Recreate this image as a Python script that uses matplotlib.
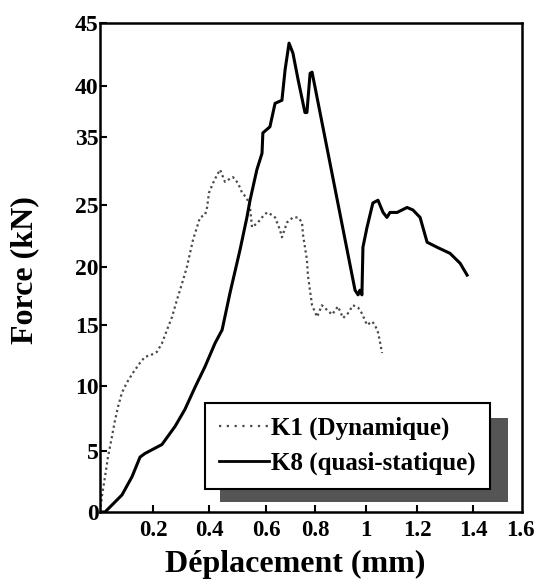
import numpy as np
import matplotlib
matplotlib.use("Agg")
import matplotlib.pyplot as plt
from matplotlib.lines import Line2D
from matplotlib.patches import Rectangle
from matplotlib.transforms import offset_copy

# ---------------- data ----------------
# K8 (quasi-statique) : solid curve
k8_x = [0.0, 0.019, 0.083, 0.121, 0.151, 0.170, 0.232, 0.279, 0.314, 0.350,
        0.386, 0.421, 0.446, 0.474, 0.509, 0.533, 0.544, 0.568, 0.586, 0.589,
        0.616, 0.637, 0.665, 0.678, 0.694, 0.710, 0.731, 0.759, 0.767, 0.780,
        0.788, 0.800, 0.957, 0.969, 0.976, 0.984, 0.988, 1.004, 1.027, 1.047,
        1.067, 1.082, 1.094, 1.122, 1.161, 1.184, 1.211, 1.221, 1.236, 1.271,
        1.318, 1.354, 1.379]
k8_y = [0.0, 0.0, 1.4, 2.9, 4.5, 4.8, 5.5, 6.9, 8.2, 9.9,
        11.6, 13.5, 14.6, 17.8, 21.4, 24.0, 25.7, 30.2, 32.6, 35.4,
        36.0, 38.3, 38.6, 41.3, 43.4, 42.6, 40.5, 37.4, 37.4, 41.0,
        41.1, 39.9, 18.0, 17.6, 18.0, 17.6, 21.6, 23.2, 25.3, 25.7,
        24.4, 24.0, 24.4, 24.4, 24.8, 24.6, 24.0, 23.2, 22.0, 21.6,
        21.1, 20.3, 19.3]

# K1 (Dynamique) : dotted curve
k1_x = [0.0, 0.008, 0.019, 0.030, 0.045, 0.057, 0.068, 0.083, 0.102, 0.125,
        0.151, 0.170, 0.189, 0.214, 0.232, 0.250, 0.268, 0.286, 0.304, 0.321,
        0.332, 0.343, 0.357, 0.368, 0.386, 0.393, 0.400, 0.414, 0.428, 0.439,
        0.456, 0.467, 0.484, 0.502, 0.516, 0.533, 0.544, 0.551, 0.572, 0.586,
        0.604, 0.624, 0.637, 0.657, 0.665, 0.686, 0.710, 0.731, 0.747, 0.751,
        0.759, 0.767, 0.771, 0.780, 0.788, 0.808, 0.827, 0.847, 0.867, 0.890,
        0.910, 0.929, 0.949, 0.969, 0.984, 1.004, 1.024, 1.035, 1.047, 1.055,
        1.063]
k1_y = [0.0, 1.4, 2.9, 4.5, 6.1, 7.4, 8.4, 9.5, 10.3, 11.1,
        11.9, 12.4, 12.5, 12.8, 13.5, 14.6, 15.7, 17.2, 18.6, 20.0,
        21.1, 22.2, 23.2, 24.0, 24.2, 24.8, 26.8, 28.2, 29.4, 30.2,
        28.4, 28.7, 29.1, 28.2, 26.8, 26.0, 24.8, 23.2, 23.6, 24.0,
        24.4, 24.2, 24.0, 23.0, 22.4, 23.6, 24.0, 24.0, 23.6, 22.6,
        21.6, 20.6, 19.3, 17.9, 16.7, 15.7, 16.7, 16.3, 15.9, 16.6,
        15.6, 16.0, 16.7, 16.5, 16.0, 15.0, 15.3, 15.0, 14.4, 13.6,
        12.7]

x_ticks = [0.2, 0.4, 0.6, 0.8, 1.0, 1.2, 1.4]
x_tick_labels = ["0.2", "0.4", "0.6", "0.8", "1", "1.2", "1.4"]
x_extra_label = "1.6"
y_ticks = [0, 5, 10, 15, 20, 25, 35, 40, 45]
y_tick_labels = ["0", "5", "10", "15", "20", "25", "35", "40", "45"]
legend_labels = ["K1 (Dynamique)", "K8 (quasi-statique)"]
x_label = "Déplacement (mm)"
y_label = "Force (kN)"

# ------------- printed axis geometry (non-uniform graduations) -------------
X_SCALE_VALS = [-0.2, 0.0, 0.2, 0.4, 0.6, 0.8, 1.0, 1.2, 1.4, 1.6, 1.8]
X_SCALE_POS = [-53, 0, 53, 109, 166, 215, 266, 317, 373, 429, 485]
Y_SCALE_VALS = [-5, 0, 5, 10, 15, 20, 25, 35, 40, 45, 50]
Y_SCALE_POS = [-61, 0, 61, 126, 187, 245, 307, 375, 426, 489, 552]


def xf(v):
    return np.interp(v, X_SCALE_VALS, X_SCALE_POS)


def xi(u):
    return np.interp(u, X_SCALE_POS, X_SCALE_VALS)


def yf(v):
    return np.interp(v, Y_SCALE_VALS, Y_SCALE_POS)


def yi(u):
    return np.interp(u, Y_SCALE_POS, Y_SCALE_VALS)


plt.rcParams["font.family"] = ["Liberation Serif", "DejaVu Serif"]
plt.rcParams["font.weight"] = "bold"

W, H = 539, 587
fig = plt.figure(figsize=(W / 100, H / 100), dpi=100)
ax = fig.add_axes([100 / W, (H - 512) / H, 422 / W, 489 / H])

ax.set_xscale("function", functions=(xf, xi))
ax.set_yscale("function", functions=(yf, yi))
ax.set_xlim(0, 1.575)
ax.set_ylim(0, 45)

ax.plot(k1_x, k1_y, color="#4a4a4a", lw=1.6, ls=(0, (1, 1.4)))
ax.plot(k8_x, k8_y, color="black", lw=2.2, solid_joinstyle="round")

for s in ax.spines.values():
    s.set_linewidth(1.8)

ax.set_xticks(x_ticks)
ax.set_xticklabels(x_tick_labels)
ax.set_yticks(y_ticks)
ax.set_yticklabels(y_tick_labels)
ax.minorticks_off()
ax.tick_params(axis="x", direction="in", length=5, width=1.5, pad=6,
               labelsize=16.5)
ax.tick_params(axis="y", direction="in", length=5, width=1.5, pad=1,
               labelsize=17)
for lab in ax.get_xticklabels() + ax.get_yticklabels():
    lab.set_fontweight("bold")

trans = offset_copy(ax.get_xaxis_transform(), fig=fig, y=-6, units="points")
ax.text(1.57, 0, x_extra_label, transform=trans, ha="center", va="top",
        fontsize=16.5, fontweight="bold", clip_on=False)

ax.set_xlabel(x_label, fontsize=23, fontweight="bold", va="center")
ax.xaxis.set_label_coords(0.462, -0.108)
ax.set_ylabel(y_label, fontsize=23, fontweight="bold", va="center")
ax.yaxis.set_label_coords(-0.178, 0.495)

# legend with offset shadow
ax.add_patch(Rectangle((0.284, 0.020), 0.683, 0.172, transform=ax.transAxes,
                       facecolor="#555555", edgecolor="none", zorder=4.5))
handles = [Line2D([], [], color="#4a4a4a", lw=1.6, ls=(0, (1, 2.5))),
           Line2D([], [], color="black", lw=2.0)]
leg = ax.legend(handles, legend_labels, loc="upper left",
                bbox_to_anchor=(0.249, 0.223), borderaxespad=0,
                prop={"family": "Liberation Serif", "weight": "bold",
                      "size": 18},
                handlelength=2.0, handletextpad=0.1, borderpad=0.55,
                labelspacing=0.45, fancybox=False, framealpha=1,
                edgecolor="black")
leg.get_frame().set_linewidth(1.5)
leg.set_zorder(5)

fig.savefig("out.png", dpi=100, facecolor="white")
